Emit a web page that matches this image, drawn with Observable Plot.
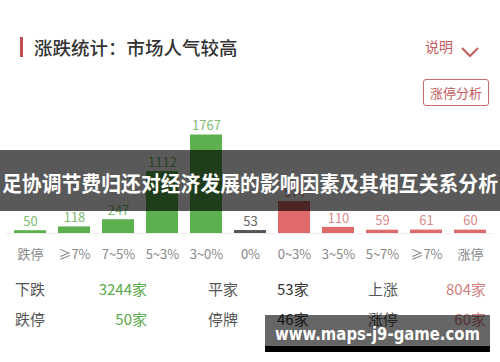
<!DOCTYPE html>
<html>
<head>
<meta charset="utf-8">
<script src="https://cdn.jsdelivr.net/npm/d3@7"></script>
<script src="https://cdn.jsdelivr.net/npm/@observablehq/plot@0.6"></script>
<style>
  html, body { margin: 0; padding: 0; background: #fff; }
  body { font-family: "Noto Sans CJK SC", "Noto Sans", sans-serif; }
  #root { position: relative; width: 500px; height: 362px; overflow: hidden; background: #fff; }
  .abs { position: absolute; white-space: nowrap; }
</style>
</head>
<body>
<div id="root"></div>
<script>
// ---- data ----
const categories = ["跌停", "≥7%", "7~5%", "5~3%", "3~0%", "0%", "0~3%", "3~5%", "5~7%", "≥7%", "涨停"];
const values = [50, 118, 247, 1112, 1767, 53, 574, 110, 59, 61, 60];
const groups = ["down", "down", "down", "down", "down", "flat", "up", "up", "up", "up", "up"];
const titleText = "涨跌统计：市场人气较高";
const bannerText = "足协调节费归还对经济发展的影响因素及其相互关系分析";
const watermarkText = "www.maps-j9-game.com";
const summaryLabels = [["下跌", "平家", "上涨"], ["跌停", "停牌", "涨停"]];
const summaryValues = [["3244家", "53家", "804家"], ["50家", "46家", "60家"]];

const barColor = {down: "#5cb04e", flat: "#555555", up: "#e06a6a"};
const labelColor = {down: "#7fbb72", flat: "#666666", up: "#d98a8a"};

const data = categories.map((c, i) => ({i, label: c, value: values[i], group: groups[i]}));

const root = document.getElementById("root");
function addDiv(style, text) {
  const d = document.createElement("div");
  d.className = "abs";
  Object.assign(d.style, style);
  if (text != null) d.textContent = text;
  root.appendChild(d);
  return d;
}

// ---- header ----
addDiv({left: "20px", top: "37px", width: "3px", height: "20px", background: "#c0504d"});
addDiv({left: "34px", top: "35px", height: "24px", lineHeight: "24px", fontSize: "18.5px", fontWeight: "500", color: "#333"}, titleText);
addDiv({left: "425px", top: "36px", height: "20px", lineHeight: "20px", fontSize: "14px", color: "#c45c5c"}, "说明");
const chev = addDiv({left: "460px", top: "40px", width: "20px", height: "14px"});
chev.innerHTML = '<svg width="20" height="14"><polyline points="2,3 10,11 18,3" fill="none" stroke="#c45c5c" stroke-width="2"/></svg>';
addDiv({left: "423px", top: "79px", width: "64px", height: "25px", border: "1px solid #c86a6a", borderRadius: "3px",
  lineHeight: "25px", textAlign: "center", fontSize: "13px", color: "#c25a5a"}, "涨停分析");

// ---- chart ----
const chart = Plot.plot({
  width: 500,
  height: 155,
  marginLeft: 6,
  marginRight: 7,
  marginTop: 24.5,
  marginBottom: 32,
  style: {fontFamily: "'Noto Sans CJK SC', 'Noto Sans', sans-serif", background: "transparent"},
  x: {type: "band", domain: d3.range(categories.length), paddingInner: 0.28, paddingOuter: 0.14},
  y: {domain: [0, 1767], axis: null},
  color: {type: "identity"},
  marks: [
    Plot.ruleY([0], {stroke: "#eeeeee"}),
    Plot.barY(data, {x: "i", y: "value", fill: d => barColor[d.group]}),
    Plot.text(data, {x: "i", y: "value", text: d => String(d.value), dy: -9, fontSize: 13, fill: d => labelColor[d.group]}),
    Plot.axisX({tickSize: 0, tickPadding: 16, fontSize: 13, color: "#888", tickFormat: i => categories[i], label: null})
  ]
});
const chartWrap = addDiv({left: "0px", top: "110px"});
chartWrap.appendChild(chart);

// ---- summary table ----
const rowY = [289, 319];
const labelX = [15, 208, 368];
const valueColors = ["#5aa84c", "#333333", "#d08080"];
summaryLabels.forEach((row, r) => {
  row.forEach((lab, c) => {
    addDiv({left: labelX[c] + "px", top: (rowY[r] - 11) + "px", height: "22px", lineHeight: "22px", fontSize: "15px", color: "#555"}, lab);
  });
  summaryValues[r].forEach((val, c) => {
    const st = {top: (rowY[r] - 11) + "px", height: "22px", lineHeight: "22px", fontSize: "15px", color: valueColors[c]};
    if (c === 0) { st.right = (500 - 147) + "px"; }
    else if (c === 1) { st.left = "277px"; }
    else { st.right = (500 - 486) + "px"; }
    addDiv(st, val);
  });
});

// ---- overlay banner ----
const banner = addDiv({left: "0px", top: "150px", width: "500px", height: "61px", background: "rgba(0,0,0,0.65)"});
banner.innerHTML = '<svg width="500" height="61"><text x="2" y="32" dominant-baseline="central" fill="#fff" font-size="21" font-weight="bold" textLength="496" lengthAdjust="spacingAndGlyphs" font-family="Noto Sans CJK SC, sans-serif"></text></svg>';
banner.querySelector("text").textContent = bannerText;

// ---- watermark ----
const wm = addDiv({left: "265px", top: "315px", width: "225px", height: "37px"});
wm.innerHTML = '<div style="position:absolute;left:0;top:0;width:225px;height:31px;background:rgba(0,0,0,0.6)"></div>' +
  '<div style="position:absolute;left:0;top:31px;width:225px;height:6px;background:#000"></div>' +
  '<svg style="position:absolute;left:0;top:0" width="225" height="37"><text x="10" y="18" dominant-baseline="central" fill="#fff" font-size="18" font-weight="bold" textLength="205" lengthAdjust="spacingAndGlyphs" font-family="DejaVu Sans, sans-serif"></text></svg>';
wm.querySelector("text").textContent = watermarkText;
</script>
</body>
</html>
